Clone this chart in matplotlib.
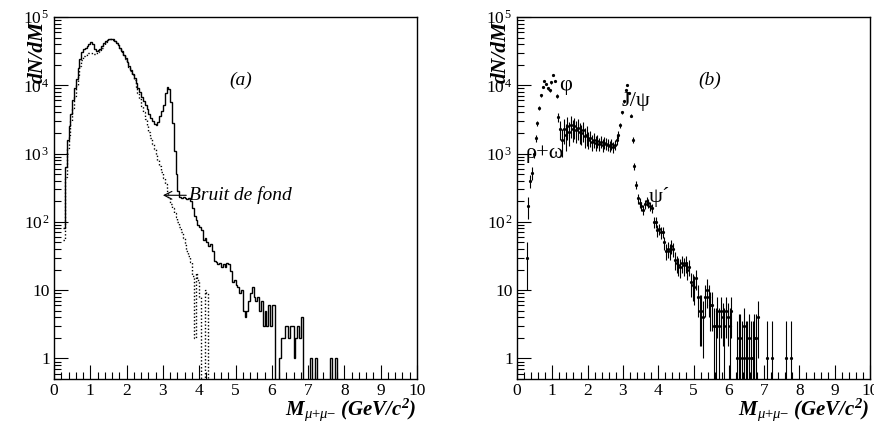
import numpy as np
import matplotlib
matplotlib.use("Agg")
import matplotlib.pyplot as plt
from matplotlib.ticker import MultipleLocator, LogLocator, NullFormatter

plt.rcParams["font.family"] = ["Liberation Serif", "DejaVu Serif"]
plt.rcParams["mathtext.fontset"] = "custom"
plt.rcParams["mathtext.rm"] = "Liberation Serif"
plt.rcParams["mathtext.it"] = "Liberation Serif:italic"
plt.rcParams["mathtext.bf"] = "Liberation Serif:italic:bold"

# binning shared by both panels (GeV/c2)
bin_start = 0.25
bin_width = 0.05

# (a) total dimuon spectrum, one value per 0.05 bin from 0.25
total_counts = [
    80, 630, 1600, 2500, 3800, 6000, 9000, 12500, 18000, 24000,
    31000, 34500, 35500, 37000, 40000, 42500, 40000, 34000, 32000, 32500,
    34500, 38000, 41500, 44500, 46500, 47500, 48000, 47000, 45000, 42000,
    39000, 35500, 31500, 28000, 25000, 22000, 19000, 16500, 14800, 12600,
    10700, 9000, 8000, 6800, 5900, 5100, 4500, 3800, 3300, 3000,
    2750, 2600, 2900, 3550, 4200, 5200, 7600, 9500, 8900, 5600,
    2800, 1100, 500, 280, 235, 225, 230, 225, 215, 220,
    200, 160, 120, 105, 90, 85, 75, 55, 58, 50,
    45, 48, 38, 27, 26, 24, 25, 22, 24, 22,
    25, 24, 19, 13, 14, 12, 11, 9, 10, 5,
    4, 5, 7, 9, 11, 8, 7, 8, 5, 7,
    3, 5, 3, 6, 3, 6, 6, 0, 0, 1,
    2, 2, 3, 3, 2, 3, 3, 1, 2, 3,
    2, 4, 0, 0, 0, 0, 1, 0, 0, 1,
    0, 0, 0, 0, 0, 0, 0, 1, 0, 0,
    1, 0,
]

# (a) background ("Bruit de fond"), same binning
background_counts = [
    55, 450, 1200, 1900, 3000, 4600, 7000, 10000, 14000, 19000,
    23500, 26500, 28000, 29000, 29500, 29500, 29000, 29000, 29500, 30500,
    32500, 35500, 39500, 43500, 46000, 47000, 47500, 46500, 44500, 41500,
    38500, 35000, 31000, 27500, 24500, 21500, 18500, 16000, 14000, 12000,
    9500, 7600, 6200, 5000, 4000, 3200, 2600, 2100, 1700, 1400,
    1150, 950, 800, 660, 540, 440, 355, 280, 225, 185,
    160, 135, 118, 100, 85, 72, 58, 46, 38, 32,
    26, 16, 2, 18, 14, 8, 0, 0, 10, 9,
    0,
]

# (b) background-subtracted yield and its error, same binning
signal_yield = [
    30, 170, 400, 520, 1000, 1700, 2800, 4700, 7200, 9500,
    11500, 10500, 9000, 8500, 11000, 14000, 11500, 7000, 3400, 2300,
    1600, 2300, 1900, 2500, 2100, 2600, 2300, 2500, 2200, 2400,
    2100, 2000, 2200, 1800, 1900, 1600, 1700, 1500, 1600, 1450,
    1550, 1400, 1500, 1350, 1450, 1400, 1350, 1300, 1400, 1250,
    1350, 1600, 1900, 2600, 4000, 5800, 8500, 10000, 7800, 3600,
    1600, 650, 350, 220, 190, 170, 150, 180, 200, 190,
    170, 160, 100, 100, 75, 78, 70, 72, 50, 38,
    40, 38, 44, 40, 28, 25, 23, 22, 25, 23,
    25, 20, 22, 13, 12, 11, 15, 8, 5, 5,
    4, 8, 10, 8, 6, 6, 3, 3, 5, 3,
    5, 4, 3, 5, 4, 3, 5, 0, 0, 1,
    2, 2, 1, 3, 1, 1, 2, 1, 1, 2,
    2, 4, 0, 0, 0, 0, 1, 0, 0, 1,
    0, 0, 0, 0, 0, 0, 0, 1, 0, 0,
    1,
]
signal_error = [
    20, 60, 90, 110, 150, 200, 250, 300, 350, 400,
    450, 450, 450, 450, 450, 500, 450, 400, 500, 700,
    700, 900, 800, 900, 800, 900, 800, 850, 750, 800,
    700, 650, 700, 600, 600, 450, 450, 400, 400, 350,
    350, 300, 300, 280, 300, 280, 260, 250, 260, 240,
    240, 250, 250, 250, 250, 250, 250, 250, 250, 200,
    150, 80, 50, 35, 30, 28, 26, 28, 30, 28,
    26, 25, 18, 18, 14, 14, 13, 13, 11, 10,
    10, 10, 10, 9, 8, 7, 7, 7, 7, 7,
    7, 6, 6, 5, 5, 5, 5, 4, 3.5, 3.5,
    3, 4, 4.5, 4, 3.5, 3.5, 2.5, 2.5, 3, 2.5,
    3, 2.5, 2.5, 3, 2.5, 2.5, 3, 0, 0, 2.5,
    2.5, 2.5, 2.5, 2.5, 2.5, 2.5, 2.5, 2.5, 2.5, 2.5,
    2.5, 3, 0, 0, 0, 0, 2.5, 0, 0, 2.5,
    0, 0, 0, 0, 0, 0, 0, 2.5, 0, 0,
    2.5,
]

y_ticks = [1, 10, 1e2, 1e3, 1e4, 1e5]
y_ticklabels = ["1", "10", r"$10^{\,2}$", r"$10^{\,3}$", r"$10^{\,4}$", r"$10^{\,5}$"]

x_title = r"$\mathbf{M}_{\mu{+}\mu{-}}\ \mathbf{(GeV/c^{2})}$"


def edges_for(values):
    return bin_start + bin_width * np.arange(len(values) + 1)


def style_axes(ax):
    ax.set_yscale("log")
    ax.set_xlim(0, 10)
    ax.set_ylim(0.5, 1e5)
    ax.xaxis.set_major_locator(MultipleLocator(1))
    ax.xaxis.set_minor_locator(MultipleLocator(0.2))
    ax.set_yticks(y_ticks, y_ticklabels)
    ax.yaxis.set_minor_locator(LogLocator(base=10, subs=np.arange(2, 10) * 1.0, numticks=20))
    ax.yaxis.set_minor_formatter(NullFormatter())
    ax.tick_params(which="both", direction="in", top=False, right=False, labelsize=12.5, width=0.8)
    ax.tick_params(which="major", length=10, pad=3)
    ax.tick_params(which="minor", length=5)
    for s in ax.spines.values():
        s.set_linewidth(1.0)
    ax.text(-0.045, 0.99, "dN/dM", transform=ax.transAxes, rotation=90, ha="center", va="top",
            fontsize=15.5, fontweight="bold", fontstyle="italic")
    ax.text(1.0, -0.085, x_title, transform=ax.transAxes, ha="right", va="center", fontsize=15)


fig = plt.figure(figsize=(8.74, 4.25), dpi=100)
ax_a = fig.add_axes([54 / 874, 46 / 425, 363 / 874, 362 / 425])
ax_b = fig.add_axes([517 / 874, 46 / 425, 353 / 874, 362 / 425])

# panel (a)
ax_a.stairs(total_counts, edges_for(total_counts), color="black", lw=1.0, baseline=None)
ax_a.stairs(background_counts, edges_for(background_counts), color="black", lw=1.0,
            linestyle=(0, (1, 1.5)), baseline=None)
style_axes(ax_a)
ax_a.text(5.15, 1.2e4, "(a)", ha="center", va="center", fontsize=14, fontstyle="italic")
ax_a.annotate("Bruit de fond", xy=(3.0, 245), xytext=(3.72, 245), ha="left", va="center",
              fontsize=14, fontstyle="italic",
              arrowprops=dict(arrowstyle="->", lw=0.8, color="black", shrinkA=0, shrinkB=0))

# panel (b)
y = np.array(signal_yield, dtype=float)
e = np.array(signal_error, dtype=float)
centers = bin_start + bin_width * (np.arange(len(y)) + 0.5)
keep = y > 0
ax_b.errorbar(centers[keep], y[keep], yerr=e[keep], xerr=bin_width / 2, fmt="o", ms=1.3,
              color="black", ecolor="black", elinewidth=0.8, capsize=0)
style_axes(ax_b)
ax_b.text(0.25, 1000, "ρ+ω", ha="left", va="center", fontsize=16)
ax_b.text(1.2, 1.0e4, "φ", ha="left", va="center", fontsize=16)
ax_b.text(2.95, 5800, "J/ψ", ha="left", va="center", fontsize=16)
ax_b.text(3.72, 235, "ψ\u00b4", ha="left", va="center", fontsize=16)
ax_b.text(5.45, 1.2e4, "(b)", ha="center", va="center", fontsize=14, fontstyle="italic")

fig.savefig("out.png", dpi=100)
